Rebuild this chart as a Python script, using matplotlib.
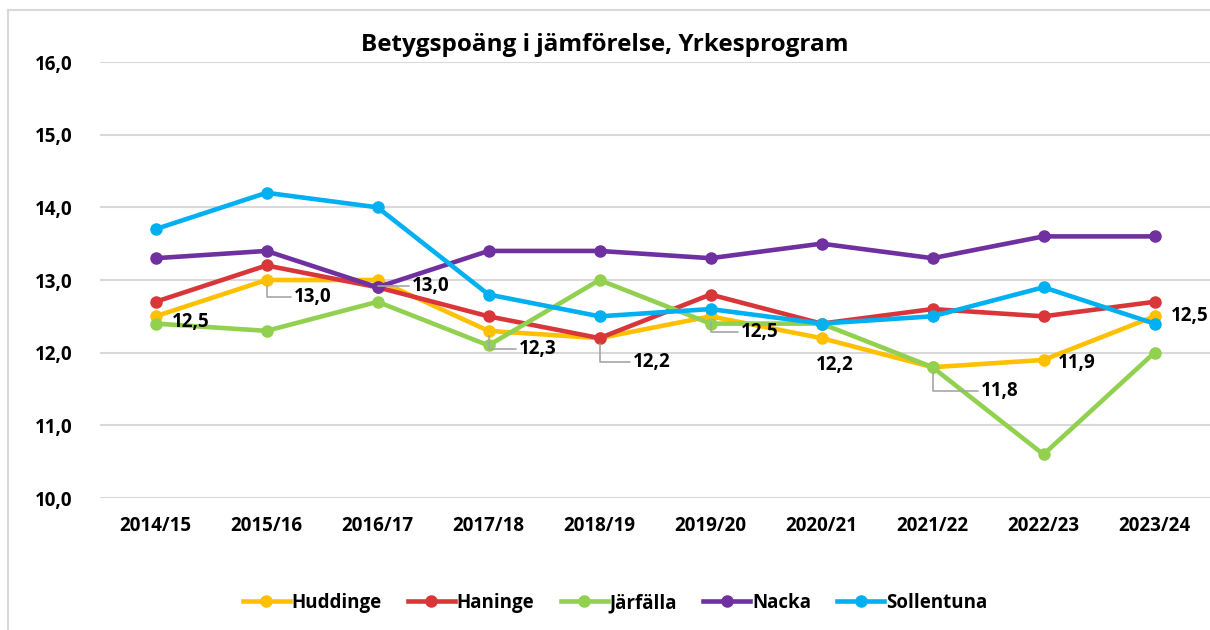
import matplotlib
matplotlib.use("Agg")
import matplotlib.pyplot as plt
from matplotlib.lines import Line2D

years = ["2014/15", "2015/16", "2016/17", "2017/18", "2018/19",
         "2019/20", "2020/21", "2021/22", "2022/23", "2023/24"]
huddinge = [12.5, 13.0, 13.0, 12.3, 12.2, 12.5, 12.2, 11.8, 11.9, 12.5]
haninge = [12.7, 13.2, 12.9, 12.5, 12.2, 12.8, 12.4, 12.6, 12.5, 12.7]
jarfalla = [12.4, 12.3, 12.7, 12.1, 13.0, 12.4, 12.4, 11.8, 10.6, 12.0]
nacka = [13.3, 13.4, 12.9, 13.4, 13.4, 13.3, 13.5, 13.3, 13.6, 13.6]
sollentuna = [13.7, 14.2, 14.0, 12.8, 12.5, 12.6, 12.4, 12.5, 12.9, 12.4]
series_names = ["Huddinge", "Haninge", "Järfälla", "Nacka", "Sollentuna"]
yticks = [10.0, 11.0, 12.0, 13.0, 14.0, 15.0, 16.0]
title = "Betygspoäng i jämförelse, Yrkesprogram"

colors = ["#FFC000", "#D9363A", "#92D050", "#7030A0", "#00B0F0"]
FONT = ["Open Sans", "DejaVu Sans"]
plt.rcParams["font.family"] = FONT
FS = 13.5

fig = plt.figure(figsize=(12.1, 6.3), dpi=100)
W, H = 1210, 630
ax = fig.add_axes([100 / W, (H - 498) / H, 1110 / W, 436 / H])

# outer chart border (light gray)
fig.add_artist(Line2D([8 / W, 8 / W], [0, 1 - 10 / H], color="#D9D9D9", lw=1.5,
                      transform=fig.transFigure))
fig.add_artist(Line2D([8 / W, 1], [1 - 10 / H, 1 - 10 / H], color="#D9D9D9", lw=1.5,
                      transform=fig.transFigure))

x = list(range(len(years)))
all_series = [huddinge, haninge, jarfalla, nacka, sollentuna]
for vals, name, c in zip(all_series, series_names, colors):
    ax.plot(x, vals, color=c, lw=3.3, marker="o", markersize=8, label=name,
            solid_joinstyle="round", zorder=3)

ax.set_xlim(-0.5, len(years) - 0.5)
ax.set_ylim(10, 16)
ax.set_yticks(yticks)
ax.set_yticklabels([f"{v:.1f}".replace(".", ",") for v in yticks])
ax.set_xticks(x)
ax.set_xticklabels(years)
ax.grid(axis="y", color="#D9D9D9", lw=1.5)
ax.set_axisbelow(True)
for s in ax.spines.values():
    s.set_visible(False)
ax.tick_params(length=0, labelsize=FS)
ax.tick_params(axis="y", pad=20)
ax.tick_params(axis="x", pad=13)
for lbl in ax.get_xticklabels() + ax.get_yticklabels():
    lbl.set_fontweight("bold")

fig.text(0.5, 1 - 45 / H, title, ha="center", va="center", fontsize=17.5,
         fontweight="bold")

# data labels for Huddinge (offsets in points, leader flag)
label_offsets = [(12, -4, False), (20, -12, True), (25, -4, True), (22, -13, True),
                 (24, -17, True), (22, -11, True), (-4, -19, False), (35, -17, True),
                 (10, -2, False), (12, 0, False)]
for xi, v, (dx, dy, leader) in zip(x, huddinge, label_offsets):
    arrow = None
    if leader:
        arrow = dict(arrowstyle="-", color="#A6A6A6", lw=1.2,
                     connectionstyle="angle,angleA=0,angleB=90,rad=0",
                     shrinkA=0, shrinkB=4)
    ax.annotate(f"{v:.1f}".replace(".", ","), (xi, v), xytext=(dx, dy),
                textcoords="offset points", ha="left", va="center",
                fontsize=FS, fontweight="bold", arrowprops=arrow, zorder=5)

handles = [Line2D([0], [0], color=c, lw=3.3, marker="o", markersize=8)
           for c in colors]
fig.legend(handles, series_names, loc="center",
           bbox_to_anchor=(0.5 + 10 / W, 1 - 603 / H),
           ncol=5, frameon=False, prop=dict(family=FONT, weight="bold", size=FS),
           handlelength=2.5, handletextpad=0.1, columnspacing=1.4)

fig.savefig("out.png", dpi=100)
